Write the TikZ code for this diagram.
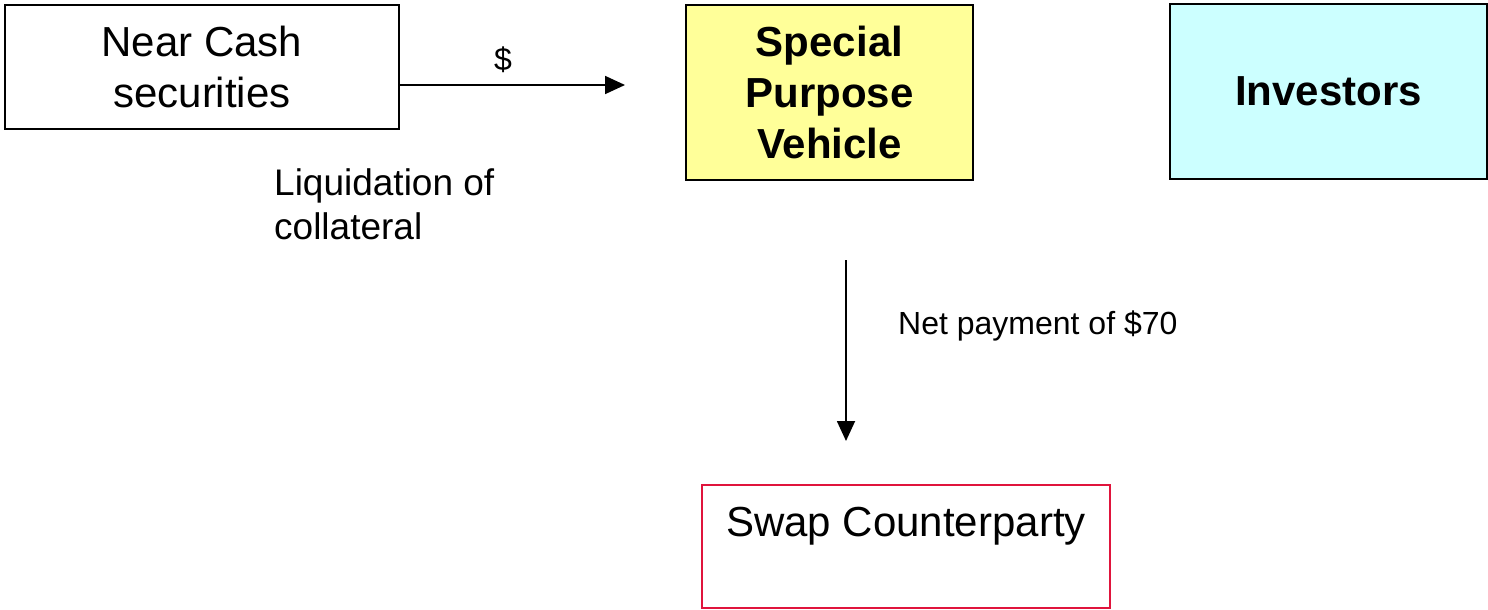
\documentclass[tikz,border=0pt]{standalone}
\usepackage{fontspec}
\setmainfont{Liberation Sans}
\usetikzlibrary{arrows.meta}
\definecolor{spvyellow}{HTML}{FFFF99}
\definecolor{invcyan}{HTML}{CCFFFF}
\definecolor{swapred}{HTML}{E0143C}
\begin{document}
\begin{tikzpicture}[x=1pt,y=-1pt,
  box/.style={draw=black, line width=1.6pt, inner sep=0pt, align=center},
  flow/.style={line width=1.8pt, -{Triangle[length=20pt,width=18pt]}},
  lbl/.style={inner sep=0pt, font=\fontsize{32}{38}\selectfont}]
\useasboundingbox (0,0) rectangle (1488,610);
\node[box, minimum width=394pt, minimum height=124pt,
      font=\fontsize{42}{51}\selectfont] (nc) at (202,67) {Near Cash\\securities};
\node[box, fill=spvyellow, minimum width=287pt, minimum height=175pt,
      font=\fontsize{42}{51}\selectfont\bfseries] (spv) at (829.5,92.5) {Special\\Purpose\\Vehicle};
\node[box, fill=invcyan, minimum width=317pt, minimum height=175pt,
      font=\fontsize{42}{51}\selectfont\bfseries] (inv) at (1328.5,91.5) {\raisebox{-2pt}{Investors}};
\node[box, draw=swapred, minimum width=408pt, minimum height=123pt] (swap) at (906,546.5) {};
\node[inner sep=0pt, font=\fontsize{42}{51}\selectfont] (swaptxt) at (906,526) {Swap Counterparty};
\coordinate (hs) at (399,85);
\coordinate (he) at (625,85);
\draw[flow] (hs) -- (he);
\node[lbl] (dollar) at (503,60) {\$};
\node[inner sep=0pt, anchor=west, align=left, font=\fontsize{37}{44}\selectfont] (liq) at (274,204) {Liquidation of\\collateral};
\coordinate (vs) at (846,260);
\coordinate (ve) at (846,441);
\draw[flow] (vs) -- (ve);
\node[lbl, anchor=west] (net) at (898,326) {Net payment of \$70};
\end{tikzpicture}
\end{document}
